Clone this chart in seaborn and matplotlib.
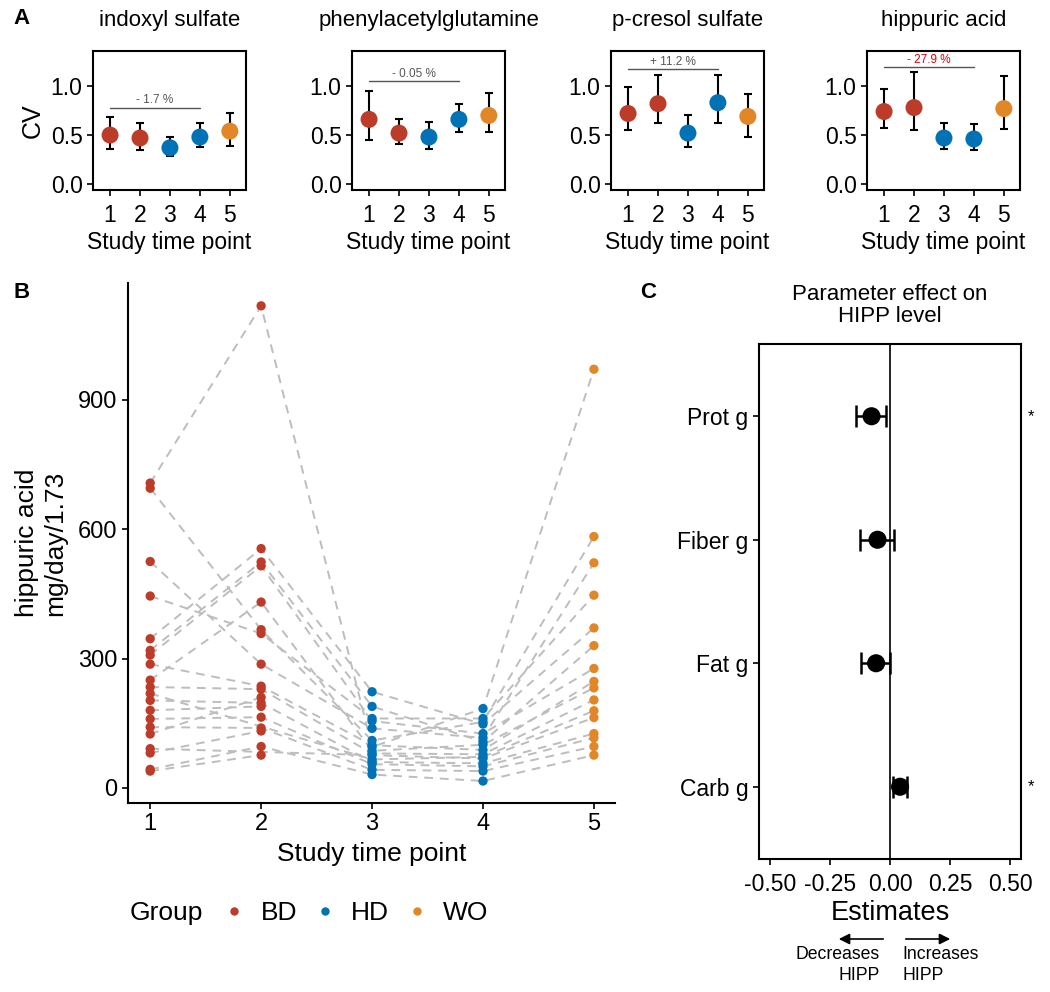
import matplotlib
matplotlib.use("Agg")
import matplotlib.pyplot as plt
import numpy as np
import pandas as pd
import seaborn as sns

# ---- data ----
time_points = [1, 2, 3, 4, 5]
groups = ["BD", "BD", "HD", "HD", "WO"]
palette = {"BD": "#BC3C29", "HD": "#0072B5", "WO": "#E18727"}

metabolites = ["indoxyl sulfate", "phenylacetylglutamine", "p-cresol sulfate", "hippuric acid"]
cv_mean = [
    [0.50, 0.47, 0.37, 0.48, 0.54],
    [0.66, 0.52, 0.48, 0.66, 0.70],
    [0.72, 0.82, 0.52, 0.83, 0.69],
    [0.74, 0.78, 0.47, 0.46, 0.77],
]
cv_low = [
    [0.36, 0.35, 0.29, 0.38, 0.39],
    [0.45, 0.41, 0.36, 0.53, 0.53],
    [0.55, 0.62, 0.38, 0.62, 0.48],
    [0.57, 0.55, 0.36, 0.35, 0.56],
]
cv_high = [
    [0.68, 0.62, 0.48, 0.62, 0.72],
    [0.95, 0.66, 0.63, 0.82, 0.93],
    [0.99, 1.11, 0.70, 1.11, 0.92],
    [0.97, 1.14, 0.62, 0.61, 1.10],
]
change_labels = ["- 1.7 %", "- 0.05 %", "+ 11.2 %", "- 27.9 %"]
change_y = [0.78, 1.05, 1.17, 1.19]
change_colors = ["#555555", "#555555", "#555555", "#E0000B"]

nan = np.nan
hipp_tp1 = [707, 695, 525, 445, 346, 319, 308, 287, 250, 234, 219, 203, 180, 160, 141, 125, 91, 81, 43, 39]
hipp_tp2 = [1118, 367, 287, 358, 555, 524, 515, 236, 431, 229, nan, 197, 189, 164, 139, 210, nan, 132, 96, 76]
hipp_tp3 = [95, 110, 138, 161, 223, 189, 155, 99, 86, 80, 66, 60, nan, 55, 42, nan, 76, nan, 31, nan]
hipp_tp4 = [184, 153, 116, 161, 148, 107, 126, 88, 100, 78, 72, 57, nan, 50, 39, nan, 68, nan, 16, nan]
hipp_tp5 = [971, 583, 522, 447, 371, 330, 277, 247, 232, 204, 179, 126, nan, 116, 96, nan, 163, nan, 76, nan]

params = ["Prot g", "Fiber g", "Fat g", "Carb g"]
estimates = [-0.077, -0.052, -0.058, 0.042]
ci_low = [-0.142, -0.124, -0.121, 0.013]
ci_high = [-0.017, 0.015, 0.001, 0.072]
significant = [True, False, False, True]

# ---- figure ----
W, H = 1050, 992
sns.set_style("white")
plt.rcParams["font.family"] = ["Liberation Sans", "DejaVu Sans"]
for key in ["text.color", "axes.labelcolor", "xtick.color", "ytick.color"]:
    plt.rcParams[key] = "black"
fig = plt.figure(figsize=(W / 100, H / 100), dpi=100)


def add_ax(x0, y0, x1, y1):
    return fig.add_axes([x0 / W, 1 - y1 / H, (x1 - x0) / W, (y1 - y0) / H])


def fy(y):
    return 1 - y / H


# panel A
a_lefts = [93, 352, 611, 867]
for i, name in enumerate(metabolites):
    ax = add_ax(a_lefts[i], 51, a_lefts[i] + 153, 190)
    df = pd.DataFrame({"tp": time_points, "cv": cv_mean[i], "Group": groups})
    err = [np.array(cv_mean[i]) - np.array(cv_low[i]), np.array(cv_high[i]) - np.array(cv_mean[i])]
    ax.errorbar(time_points, cv_mean[i], yerr=err, fmt="none", ecolor="black",
                elinewidth=1.5, capsize=3, capthick=1.5, zorder=1)
    sns.scatterplot(data=df, x="tp", y="cv", hue="Group", palette=palette, s=150,
                    edgecolor="none", legend=False, ax=ax, zorder=2)
    ax.plot([1, 4], [change_y[i], change_y[i]], color="#555555", lw=1)
    ax.text(2.5, change_y[i] + 0.015, change_labels[i], ha="center", va="bottom",
            fontsize=8.5, color=change_colors[i])
    ax.set_xlim(0.43, 5.54)
    ax.set_ylim(-0.06, 1.357)
    ax.set_xticks(time_points)
    ax.set_yticks([0.0, 0.5, 1.0])
    ax.set_yticklabels(["0.0", "0.5", "1.0"])
    ax.tick_params(axis="x", pad=6)
    ax.tick_params(labelsize=16.5, length=4, width=1.2, left=True, bottom=True)
    for s in ax.spines.values():
        s.set_linewidth(1.5)
        s.set_color("black")
    ax.set_xlabel("Study time point", fontsize=16.5, labelpad=3)
    ax.set_ylabel("CV" if i == 0 else "", fontsize=18, labelpad=4)
    ax.set_title(name, fontsize=16, pad=18)

# panel B
tp_vals = [hipp_tp1, hipp_tp2, hipp_tp3, hipp_tp4, hipp_tp5]
rows = []
for t, vals in enumerate(tp_vals):
    for sid, v in enumerate(vals):
        if not np.isnan(v):
            rows.append({"subject": sid, "tp": t + 1, "value": v, "Group": groups[t]})
long_df = pd.DataFrame(rows)

axb = add_ax(128, 283, 615, 803)
sns.lineplot(data=long_df, x="tp", y="value", units="subject", estimator=None,
             color="#BDBDBD", linestyle=(0, (4.5, 3.5)), lw=1.4, ax=axb, zorder=1)
sns.scatterplot(data=long_df, x="tp", y="value", hue="Group", palette=palette,
                s=45, edgecolor="none", ax=axb, zorder=2)
axb.set_xlim(0.80, 5.19)
axb.set_ylim(-35, 1171)
axb.set_xticks(time_points)
axb.set_yticks([0, 300, 600, 900])
axb.tick_params(labelsize=17, length=4, width=1.2, left=True, bottom=True)
sns.despine(ax=axb)
for s in ["left", "bottom"]:
    axb.spines[s].set_linewidth(1.5)
    axb.spines[s].set_color("black")
axb.set_xlabel("Study time point", fontsize=19, labelpad=5)
axb.set_ylabel("hippuric acid\nmg/day/1.73", fontsize=19, labelpad=8)
handles, labels = axb.get_legend_handles_labels()
axb.legend_.remove()
fig.legend(handles, labels, ncol=3, frameon=False, fontsize=19, loc="center left",
           bbox_to_anchor=(192 / W, fy(913)), handletextpad=0.3, columnspacing=0.35,
           handlelength=1.4, markerscale=0.9)
fig.text(166 / W, fy(913), "Group", fontsize=19, ha="center", va="center")

# panel C
axc = add_ax(759, 344, 1021, 859)
cdf = pd.DataFrame({"param": params, "est": estimates})
axc.axvline(0, color="black", lw=1.2, zorder=0)
axc.errorbar(estimates, range(len(params)),
             xerr=[np.array(estimates) - np.array(ci_low), np.array(ci_high) - np.array(estimates)],
             fmt="none", ecolor="black", elinewidth=1.8, capsize=8, capthick=1.8, zorder=1)
sns.scatterplot(data=cdf, x="est", y="param", color="black", s=170, edgecolor="none",
                ax=axc, zorder=2)
axc.set_xlim(-0.546, 0.546)
axc.set_ylim(3.585, -0.585)
axc.set_xticks([-0.5, -0.25, 0, 0.25, 0.5])
axc.set_xticklabels(["-0.50", "-0.25", "0.00", "0.25", "0.50"])
axc.tick_params(labelsize=16.5, length=4, width=1.2, left=True, bottom=True)
axc.tick_params(axis="x", pad=6)
for s in axc.spines.values():
    s.set_linewidth(1.5)
    s.set_color("black")
axc.set_ylabel("")
axc.set_xlabel("Estimates", fontsize=19.5, labelpad=3)
for k, sig in enumerate(significant):
    if sig:
        axc.text(1.04, k, "*", transform=axc.get_yaxis_transform(), ha="center",
                 va="center", fontsize=12)
axc.set_title("Parameter effect on\nHIPP level", fontsize=16, pad=16, linespacing=1.05)

axc.annotate("", xy=(836 / W, fy(939)), xytext=(886 / W, fy(939)), xycoords="figure fraction",
             annotation_clip=False,
             arrowprops=dict(arrowstyle="-|>", color="black", lw=1.2, mutation_scale=16))
axc.annotate("", xy=(953 / W, fy(939)), xytext=(903 / W, fy(939)), xycoords="figure fraction",
             annotation_clip=False,
             arrowprops=dict(arrowstyle="-|>", color="black", lw=1.2, mutation_scale=16))
fig.text(880 / W, fy(965), "Decreases\nHIPP", ha="right", va="center", fontsize=12.7,
         multialignment="right", linespacing=1.25)
fig.text(902 / W, fy(965), "Increases\nHIPP", ha="left", va="center", fontsize=12.7,
         multialignment="left", linespacing=1.25)

# panel letters
for letter, x, y in [("A", 22, 18), ("B", 22, 292), ("C", 648, 292)]:
    fig.text(x / W, fy(y), letter, fontsize=16, fontweight="bold", ha="center", va="center")

fig.savefig("out.png", dpi=100)
